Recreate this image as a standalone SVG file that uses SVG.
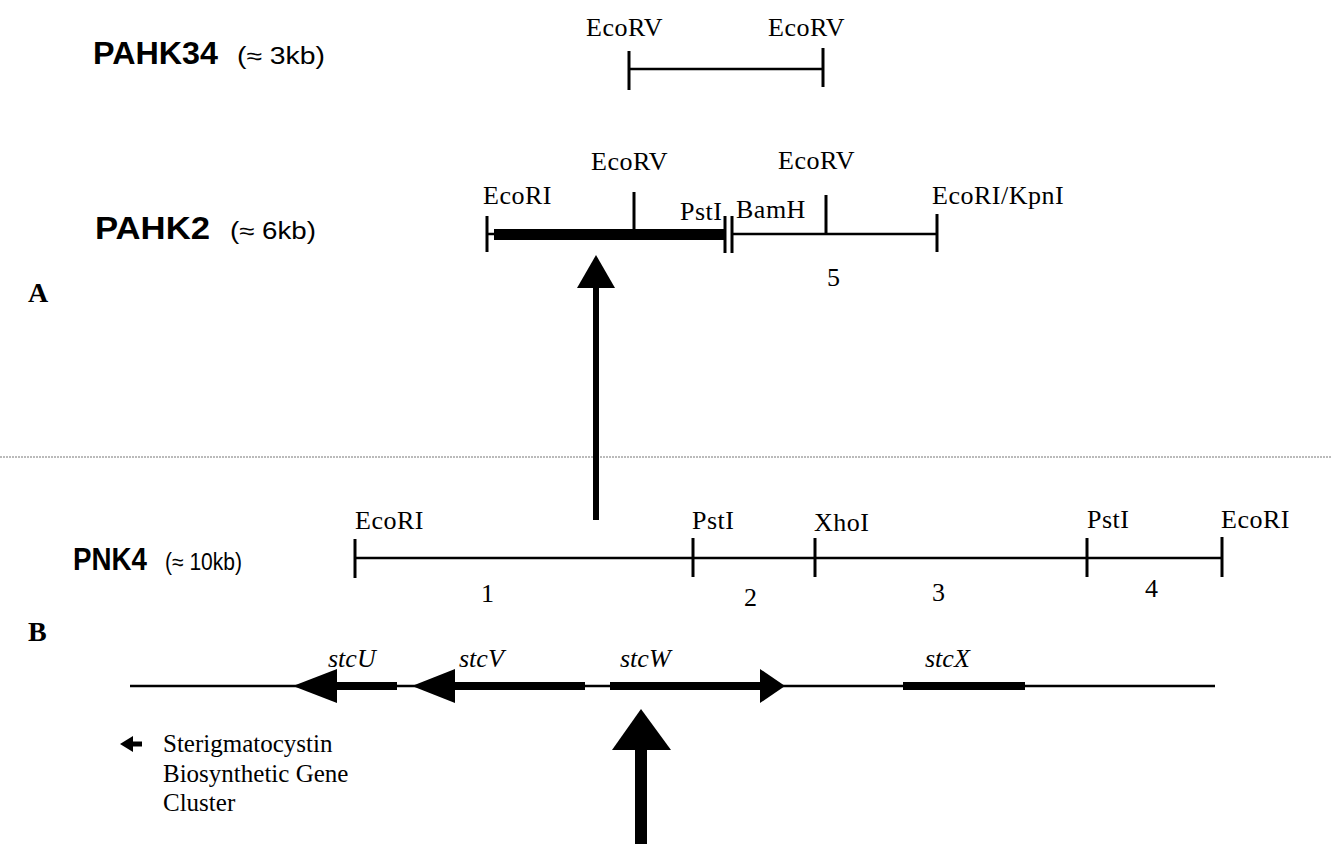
<svg xmlns="http://www.w3.org/2000/svg" width="1332" height="844" viewBox="0 0 1332 844">
<style>
.lbl{font-family:"Liberation Serif","Times New Roman",serif;font-size:26px;letter-spacing:0.5px;fill:#000}
.num{font-family:"Liberation Serif","Times New Roman",serif;font-size:26px;fill:#000}
.txt{font-family:"Liberation Serif","Times New Roman",serif;font-size:25px;fill:#000}
.it{font-family:"Liberation Serif","Times New Roman",serif;font-size:26px;font-style:italic;fill:#000}
.name{font-family:"Liberation Sans",Arial,sans-serif;font-size:31px;font-weight:bold;fill:#000}
.size{font-family:"Liberation Sans",Arial,sans-serif;font-size:23px;fill:#000}
.panel{font-family:"Liberation Serif","Times New Roman",serif;font-size:28px;font-weight:bold;fill:#000}
.ln{stroke:#000;stroke-width:2.5;fill:none}
.tk{stroke:#000;stroke-width:3;fill:none}
</style>
<rect width="1332" height="844" fill="#fff"/>
<line x1="0" y1="457" x2="1332" y2="457" stroke="#777" stroke-width="1" stroke-dasharray="2,1"/>
<text class="panel" x="28" y="302">A</text>
<text class="panel" x="28" y="641">B</text>

<g id="pahk34">
<text class="name" x="93" y="64" textLength="125" lengthAdjust="spacingAndGlyphs">PAHK34</text>
<text class="size" x="237" y="64" textLength="88" lengthAdjust="spacingAndGlyphs">(≈ 3kb)</text>
<text class="lbl" x="586" y="36">EcoRV</text>
<text class="lbl" x="768" y="36">EcoRV</text>
<line class="ln" x1="629" y1="69" x2="823" y2="69"/>
<line class="tk" x1="629" y1="51" x2="629" y2="90"/>
<line class="tk" x1="823" y1="48" x2="823" y2="87"/>
</g>

<g id="pahk2">
<text class="name" x="95" y="239" textLength="115" lengthAdjust="spacingAndGlyphs">PAHK2</text>
<text class="size" x="230" y="239" textLength="86" lengthAdjust="spacingAndGlyphs">(≈ 6kb)</text>
<text class="lbl" x="591" y="170">EcoRV</text>
<text class="lbl" x="778" y="169">EcoRV</text>
<text class="lbl" x="483" y="204">EcoRI</text>
<text class="lbl" x="680" y="220">PstI</text>
<text class="lbl" x="736" y="218">BamH</text>
<text class="lbl" x="932" y="204">EcoRI/KpnI</text>
<text class="num" x="827" y="286">5</text>
<line class="tk" x1="487" y1="216" x2="487" y2="252"/>
<line x1="487" y1="234" x2="494" y2="234" class="ln"/>
<rect x="494" y="229" width="231" height="11" fill="#000"/>
<line class="tk" x1="634" y1="192" x2="634" y2="232"/>
<line class="tk" x1="725" y1="216" x2="725" y2="253"/>
<line class="tk" x1="732" y1="216" x2="732" y2="253"/>
<line class="ln" x1="732" y1="234" x2="937" y2="234"/>
<line class="tk" x1="826" y1="195" x2="826" y2="234"/>
<line class="tk" x1="937" y1="214" x2="937" y2="252"/>
</g>

<g id="pnk4">
<text class="name" x="73" y="570" textLength="74" lengthAdjust="spacingAndGlyphs">PNK4</text>
<text class="size" x="165" y="570" textLength="77" lengthAdjust="spacingAndGlyphs">(≈ 10kb)</text>
<text class="lbl" x="355" y="529">EcoRI</text>
<text class="lbl" x="692" y="529">PstI</text>
<text class="lbl" x="814" y="531">XhoI</text>
<text class="lbl" x="1087" y="528">PstI</text>
<text class="lbl" x="1221" y="528">EcoRI</text>
<text class="num" x="481" y="602">1</text>
<text class="num" x="744" y="606">2</text>
<text class="num" x="932" y="601">3</text>
<text class="num" x="1145" y="597">4</text>
<line class="ln" x1="355" y1="558" x2="1222" y2="558"/>
<line class="tk" x1="355" y1="539" x2="355" y2="578"/>
<line class="tk" x1="693" y1="538" x2="693" y2="577"/>
<line class="tk" x1="815" y1="538" x2="815" y2="577"/>
<line class="tk" x1="1087" y1="538" x2="1087" y2="577"/>
<line class="tk" x1="1222" y1="537" x2="1222" y2="577"/>
</g>

<g id="cluster">
<line class="ln" x1="130" y1="686" x2="1215" y2="686"/>
<polygon points="293,686 337,669 337,703" fill="#000"/>
<rect x="336" y="682" width="61" height="8" fill="#000"/>
<polygon points="412,686 455,669 455,703" fill="#000"/>
<rect x="454" y="682" width="131" height="8" fill="#000"/>
<rect x="610" y="682" width="151" height="8" fill="#000"/>
<polygon points="785,686 760,669 760,703" fill="#000"/>
<rect x="903" y="682" width="122" height="8" fill="#000"/>
<text class="it" x="328" y="667">stcU</text>
<text class="it" x="459" y="667">stcV</text>
<text class="it" x="620" y="667">stcW</text>
<text class="it" x="925" y="667">stcX</text>
<text class="txt" x="163" y="752">Sterigmatocystin</text>
<text class="txt" x="163" y="782">Biosynthetic Gene</text>
<text class="txt" x="163" y="811">Cluster</text>
</g>

<g id="connectors">
<line x1="596" y1="520" x2="596" y2="286" stroke="#000" stroke-width="6"/>
<polygon points="596,255 577,288 615,288" fill="#000"/>
<line x1="641" y1="844" x2="641" y2="748" stroke="#000" stroke-width="12"/>
<polygon points="641,709 612,750 671,750" fill="#000"/>
<line x1="131" y1="744" x2="142" y2="744" stroke="#000" stroke-width="5"/>
<polygon points="120,744 133,736 133,752" fill="#000"/>
</g>
</svg>
